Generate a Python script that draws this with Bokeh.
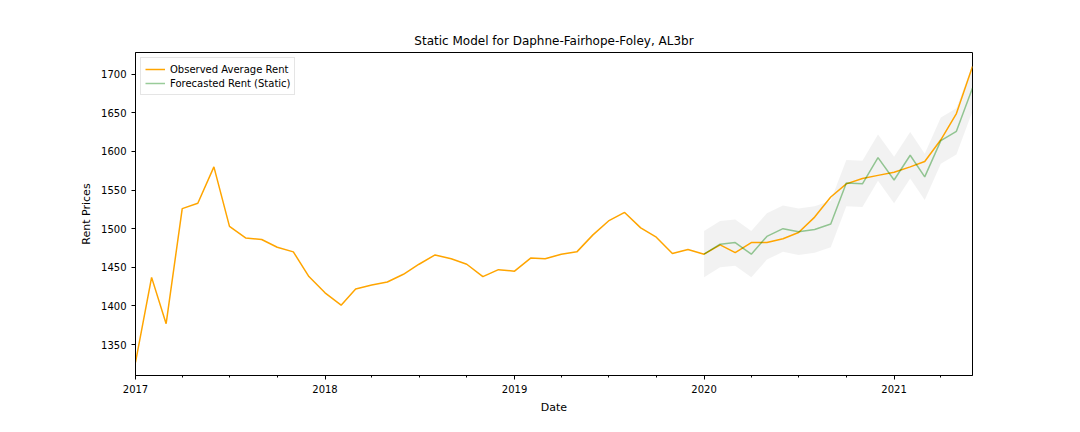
import pandas as pd
from bokeh.plotting import figure
from bokeh.models import FixedTicker, DatetimeTickFormatter, Legend, LegendItem
from bokeh.embed import file_html
from bokeh.resources import INLINE

observed = [1327,1437,1377,1526,1533,1580,1503,1488,1486,1476,1470,1438,
            1417,1401,1422,1427,1431,1441,1454,1466,1461,1454,1438,1447,
            1445,1462,1461,1467,1470,1492,1510,1521,1501,1489,1468,1473,
            1467,1479,1469,1482,1482,1487,1495,1515,1541,1558,1565,1569,
            1573,1580,1587,1615,1649,1710]
forecast = [1467,1480,1482,1467,1490,1500,1496,1499,1506,1559,1558,1592,
            1563,1595,1567,1614,1626,1682]
band = 30

dates = pd.date_range("2017-01-01", periods=len(observed), freq="MS")
fdates = dates[-len(forecast):]
lower = [v - band for v in forecast]
upper = [v + band for v in forecast]

p = figure(width=1064, height=416, x_axis_type="datetime", output_backend="svg",
           toolbar_location=None, title="Static Model for Daphne-Fairhope-Foley, AL3br",
           x_range=(dates[0], dates[-1]), y_range=(1310, 1728),
           min_border_left=135, min_border_right=92, min_border_top=52, min_border_bottom=38)
p.title.align = "center"
p.title.text_font_style = "normal"
p.title.text_font = "DejaVu Sans"
p.title.text_font_size = "12px"
p.title.text_color = "black"
p.grid.visible = False
p.outline_line_color = "black"

p.varea(x=fdates, y1=lower, y2=upper, fill_color="gray", fill_alpha=0.1)
r1 = p.line(dates, observed, line_color="orange", line_width=1.5)
r2 = p.line(fdates, forecast, line_color="green", line_alpha=0.4, line_width=1.5)

majors = [pd.Timestamp(f"{y}-01-01").value // 10**6 for y in range(2017, 2022)]
minors = [pd.Timestamp(f"{y}-{m:02d}-01").value // 10**6 for y in range(2017, 2022) for m in (4, 7, 10)]
p.xaxis.ticker = FixedTicker(ticks=majors, minor_ticks=minors)
p.xaxis.formatter = DatetimeTickFormatter(years="%Y", months="%Y", days="%Y")
p.yaxis.ticker = FixedTicker(ticks=list(range(1350, 1701, 50)))
p.xaxis.axis_label = "Date"
p.yaxis.axis_label = "Rent Prices"
for ax in (p.xaxis[0], p.yaxis[0]):
    ax.axis_label_text_font_style = "normal"
    ax.axis_label_text_font = "DejaVu Sans"
    ax.axis_label_text_font_size = "11px"
    ax.axis_label_text_color = "black"
    ax.major_label_text_font = "DejaVu Sans"
    ax.major_label_text_font_size = "10px"
    ax.major_label_text_color = "black"
    ax.major_tick_out = 4
    ax.major_tick_in = 0
    ax.minor_tick_out = 2
    ax.minor_tick_in = 0
p.yaxis.minor_tick_line_color = None

legend = Legend(items=[LegendItem(label="Observed Average Rent", renderers=[r1]),
                       LegendItem(label="Forecasted Rent (Static)", renderers=[r2])],
                location="top_left", label_text_font="DejaVu Sans", label_text_font_size="10px",
                label_text_color="black",
                border_line_color="#cccccc", spacing=0, padding=4, margin=5,
                label_height=14, glyph_height=14)
p.add_layout(legend)

open("out.html", "w").write(file_html(p, INLINE))
